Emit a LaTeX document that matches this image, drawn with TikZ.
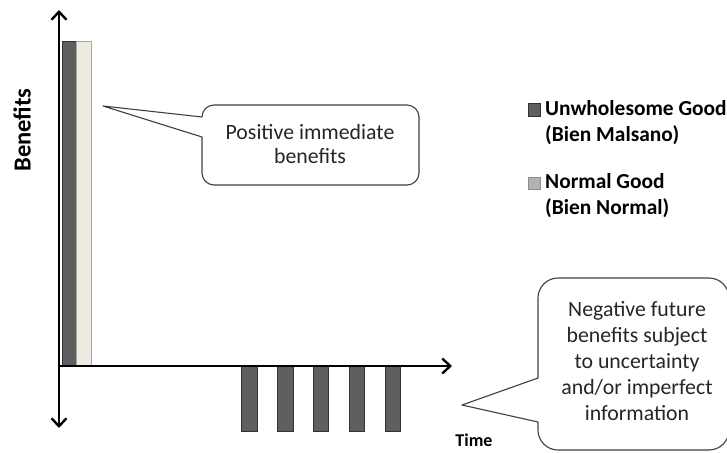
\documentclass[tikz,border=0pt]{standalone}
\usepackage{fontspec}
\setmainfont{Carlito}
\usetikzlibrary{arrows.meta}
\definecolor{darkbar}{HTML}{5F5F5F}
\definecolor{darkedge}{HTML}{333333}
\definecolor{lightbar}{HTML}{EEECE1}
\definecolor{lightedge}{HTML}{A6A6A6}
\definecolor{legendlight}{HTML}{B3B3B3}
\definecolor{legendlightedge}{HTML}{8C8C8C}
\definecolor{calloutedge}{HTML}{3F3F3F}
\tikzset{
  axis/.style={line width=2.4pt, black, arrows={-Straight Barb[length=8pt,width=15pt]}},
  darkfill/.style={fill=darkbar, draw=darkedge, line width=0.9pt},
  lightfill/.style={fill=lightbar, draw=lightedge, line width=0.9pt},
  callout/.style={draw=calloutedge, fill=white, line width=1.1pt, line join=round},
  bodytext/.style={font=\fontsize{21.8}{24.5}\selectfont, align=center, text=black!85},
  legendtext/.style={font=\fontsize{21.4}{26}\selectfont\bfseries, anchor=west, align=left, inner sep=0pt},
}
\begin{document}
\begin{tikzpicture}[x=1pt,y=-1pt]
\useasboundingbox (0,0) rectangle (727,452);
% key points
\coordinate (O) at (59,366);
\coordinate (ytop) at (59,10);
\coordinate (ybot) at (59,428);
\coordinate (xend) at (452,366);
% tall bars
\draw[darkfill] (62,41) rectangle (76,366);
\draw[lightfill] (76,41) rectangle (91,366);
% negative bars
\foreach \xa/\xb in {241/257, 277/293, 313/328, 349/364, 385/400}
  \draw[darkfill] (\xa,366) rectangle (\xb,431);
% axes
\draw[axis] (O) -- (ytop);
\draw[axis] (O) -- (ybot);
\draw[axis] (O) -- (xend);
% axis labels
\node[rotate=90, font=\fontsize{24.5}{28}\selectfont\bfseries] (benefits) at (22,130) {Benefits};
\node[font=\fontsize{18}{20}\selectfont\bfseries, anchor=base, inner sep=0pt] (time) at (474,446.5) {Time};
% callout 1
\coordinate (tip1) at (103,106);
\draw[callout] (tip1) -- (202,117) .. controls (202,110.4) and (207.4,105) .. (214,105)
  -- (407,105) .. controls (413.6,105) and (419,110.4) .. (419,117)
  -- (419,173) .. controls (419,179.6) and (413.6,185) .. (407,185)
  -- (214,185) .. controls (207.4,185) and (202,179.6) .. (202,173)
  -- (202,137) -- cycle;
\node[bodytext] (c1) at (310,144) {Positive immediate\\benefits};
% callout 2
\coordinate (tip2) at (462,405);
\draw[callout] (tip2) -- (538,378) -- (538,298) .. controls (538,287) and (547,278) .. (558,278)
  -- (709,278) .. controls (720,278) and (729,287) .. (729,298)
  -- (729,430) .. controls (729,441) and (720,450) .. (709,450)
  -- (558,450) .. controls (547,450) and (538,441) .. (538,430)
  -- (538,422) -- cycle;
\node[bodytext, font=\fontsize{21.8}{26.2}\selectfont] (c2) at (637,361) {Negative future\\benefits subject\\to uncertainty\\and/or imperfect\\information};
% legend
\draw[fill=darkbar, draw=black!80, line width=0.8pt] (528,103.5) rectangle (540,116) coordinate (sq1);
\draw[fill=legendlight, draw=legendlightedge, line width=0.8pt] (528,177) rectangle (540,189.5) coordinate (sq2);
\node[legendtext] (leg1) at (545,123) {Unwholesome Good\\(Bien Malsano)};
\node[legendtext] (leg2) at (545,196) {Normal Good\\(Bien Normal)};
\end{tikzpicture}
\end{document}
